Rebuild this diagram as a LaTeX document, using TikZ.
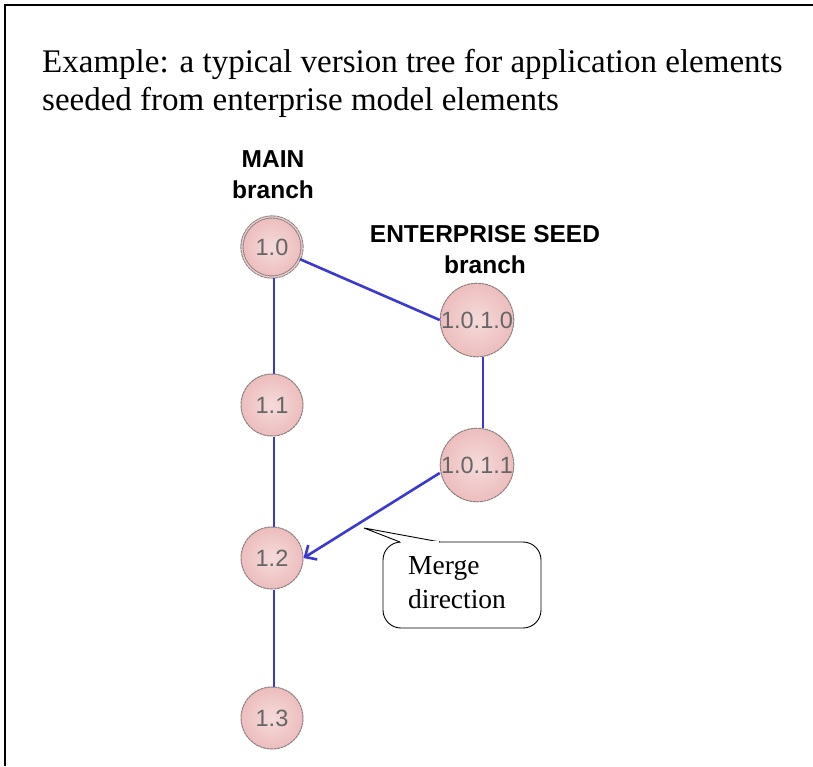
\documentclass[tikz,border=0pt]{standalone}
\usepackage{fontspec}
\setmainfont{Liberation Serif}
\setsansfont{Liberation Sans}
\usetikzlibrary{arrows.meta}
\definecolor{nodefill}{HTML}{EDBDBD}
\definecolor{nodeline}{HTML}{8C8080}
\definecolor{linkblue}{HTML}{3A3AD0}
\definecolor{numgray}{HTML}{666666}
\tikzset{
  ver/.style={circle, draw=nodeline, line width=1pt, dash pattern=on 3pt off 0.6pt,
    inner color=nodefill!55, outer color=nodefill,
    font=\sffamily\fontsize{23.5}{23.5}\selectfont, text=numgray, inner sep=0pt},
  link/.style={draw=linkblue, line width=2.6pt},
  lbl/.style={font=\sffamily\bfseries\fontsize{24.5}{31}\selectfont, align=center},
  serif/.style={anchor=base west, inner sep=0pt},
}
\begin{document}
\begin{tikzpicture}[x=1pt,y=-1pt]
\useasboundingbox (0,0) rectangle (813,766);
\fill[white] (0,0) rectangle (813,766);
\draw[line width=1.5pt] (5,766) -- (5,5) -- (813,5);
\node[serif, font=\fontsize{33}{38}\selectfont] (title1) at (42,72)
  {Example: a typical version tree for application elements};
\node[serif, font=\fontsize{33}{38}\selectfont] (title2) at (42,110)
  {seeded from enterprise model elements};
\node[lbl] (mainlbl) at (273,175) {MAIN\\branch};
\node[lbl] (entlbl) at (485,250) {ENTERPRISE SEED\\branch};
\node[ver, minimum size=60pt, double=nodefill!70, double distance=1.2pt] (v10) at (272,247) {1.0};
\node[ver, minimum size=72pt] (v1010) at (477,320) {1.0.1.0};
\node[ver, minimum size=62pt] (v11) at (272,405) {1.1};
\node[ver, minimum size=72pt] (v1011) at (477,465) {1.0.1.1};
\node[ver, minimum size=62pt] (v12) at (272,558) {1.2};
\node[ver, minimum size=62pt] (v13) at (272,718) {1.3};
\draw[link] (v10.south) ++(2,0) coordinate (a) -- (a |- v11.north);
\draw[link] (v11.south) ++(2,0) coordinate (b) -- (b |- v12.north);
\draw[link] (v12.south) ++(2,0) coordinate (c) -- (c |- v13.north);
\draw[link] (v10) -- (v1010.west);
\draw[link] (v1010.south) ++(6,0) coordinate (d) -- (d |- v1011.north);
\draw[link, -{Straight Barb[length=9pt,width=17pt]}] (v1011.west) ++(0,8) -- (v12.east);
\draw[line width=0.9pt, rounded corners=18pt] (383,542) rectangle (541,628);
\draw[line width=0.9pt, fill=white] (400,542) -- (364,528) -- (440,542);
\draw[white, line width=1.3pt] (401,542) -- (439,542);
\node[serif, font=\fontsize{27.5}{34}\selectfont] (merge1) at (408,574) {Merge};
\node[serif, font=\fontsize{27.5}{34}\selectfont] (merge2) at (408,608) {direction};
\end{tikzpicture}
\end{document}
